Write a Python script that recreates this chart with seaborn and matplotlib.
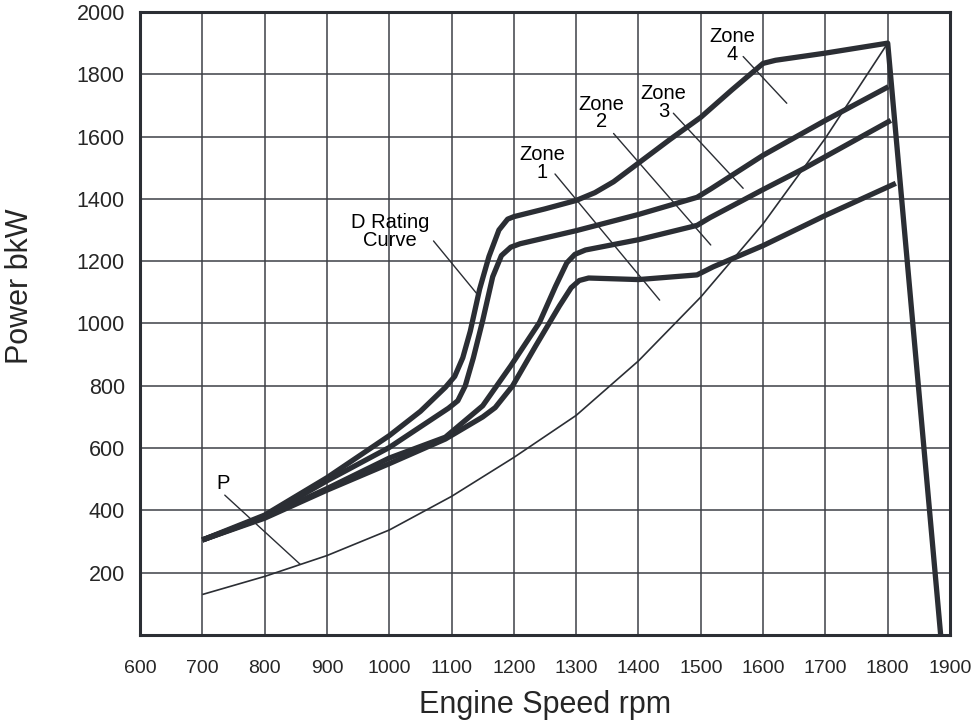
import numpy as np
import pandas as pd
import matplotlib.pyplot as plt
import seaborn as sns

# ------------------------------------------------------------
# Engine power rating chart: D rating curve, zones and prop curve
# ------------------------------------------------------------

# D rating curve (top boundary, incl. the governor drop-off)
d_rpm = [700, 800, 900, 1000, 1050, 1090, 1105, 1118, 1130, 1145, 1160, 1176, 1190, 1200,
         1250, 1300, 1330, 1360, 1400, 1450, 1500, 1550, 1600, 1620, 1700, 1800, 1885]
d_kw = [305, 385, 505, 640, 718, 795, 830, 890, 975, 1110, 1215, 1300, 1335, 1343,
        1368, 1395, 1420, 1455, 1515, 1590, 1662, 1750, 1835, 1845, 1868, 1900, 0]

# Zone 3 / 4 boundary
z3_rpm = [700, 800, 900, 1000, 1095, 1110, 1122, 1135, 1150, 1166, 1180, 1195, 1210,
          1300, 1400, 1494, 1516, 1600, 1700, 1801]
z3_kw = [305, 380, 495, 602, 728, 752, 800, 890, 1010, 1150, 1218, 1245, 1256,
         1298, 1350, 1405, 1432, 1540, 1652, 1760]

# Zone 2 / 3 boundary
z2_rpm = [700, 800, 900, 1000, 1090, 1150, 1195, 1241, 1267, 1285, 1298, 1315,
          1400, 1494, 1515, 1600, 1665, 1805]
z2_kw = [305, 378, 470, 568, 635, 736, 864, 1003, 1120, 1195, 1222, 1236,
         1269, 1315, 1340, 1430, 1497, 1652]

# Zone 1 / 2 boundary
z1_rpm = [700, 800, 900, 1000, 1090, 1150, 1170, 1198, 1235, 1273, 1292, 1305, 1320,
          1400, 1494, 1520, 1600, 1700, 1813]
z1_kw = [305, 375, 465, 550, 629, 700, 730, 800, 928, 1056, 1115, 1138, 1146,
         1141, 1156, 1182, 1250, 1347, 1450]

# Propeller demand curve P
p_rpm = [700, 800, 900, 1000, 1100, 1200, 1300, 1400, 1500, 1600, 1700, 1800]
p_kw = [130, 188, 255, 337, 445, 570, 705, 880, 1085, 1320, 1595, 1900]

x_ticks = list(range(600, 2000, 100))
y_ticks = list(range(200, 2200, 200))

ink = "#2b2e34"

sns.set_style("white")
plt.rcParams["font.family"] = ["Liberation Sans", "DejaVu Sans"]

fig = plt.figure(figsize=(9.8, 7.22), dpi=100)
ax = fig.add_axes([0.1429, 0.1205, 0.8265, 0.8629])

curves = [
    (d_rpm, d_kw, 3.8),
    (z3_rpm, z3_kw, 3.8),
    (z2_rpm, z2_kw, 3.8),
    (z1_rpm, z1_kw, 3.8),
    (p_rpm, p_kw, 1.2),
]
for xs, ys, lw in curves:
    df = pd.DataFrame({"rpm": xs, "kW": ys})
    sns.lineplot(data=df, x="rpm", y="kW", sort=False, estimator=None,
                 color=ink, linewidth=lw, ax=ax,
                 solid_joinstyle="round", solid_capstyle="butt", zorder=3)

ax.set_xlim(600, 1900)
ax.set_ylim(0, 2000)
ax.set_xticks(x_ticks)
ax.set_yticks(y_ticks)
ax.grid(True, color="#3d4047", linewidth=1.1)
ax.set_axisbelow(True)
ax.tick_params(axis="x", labelsize=14, length=0, pad=18)
ax.tick_params(axis="y", labelsize=15.5, length=0, pad=11)
for s in ax.spines.values():
    s.set_color(ink)
    s.set_linewidth(2.2)

ax.set_xlabel("Engine Speed rpm", fontsize=22)
ax.set_ylabel("Power bkW", fontsize=22)
ax.xaxis.set_label_coords(0.5, -0.088)
ax.yaxis.set_label_coords(-0.13, 0.56)

# leader-line labels
labels = [
    ("D Rating\nCurve", (1001, 1295), (1071, 1265), (1140, 1097)),
    ("Zone\n1", (1245, 1513), (1266, 1480), (1434, 1075)),
    ("Zone\n2", (1341, 1675), (1360, 1610), (1516, 1252)),
    ("Zone\n3", (1440, 1710), (1456, 1675), (1568, 1434)),
    ("Zone\n4", (1550, 1892), (1568, 1857), (1638, 1707)),
    ("P", (734, 485), (736, 449), (857, 227)),
]
for txt, tpos, start, end in labels:
    ax.text(tpos[0], tpos[1], txt, ha="center", va="center", fontsize=14.5,
            linespacing=0.9, color="black", zorder=4)
    ax.annotate("", xy=end, xytext=start,
                arrowprops=dict(arrowstyle="-", color=ink, lw=1.0,
                                shrinkA=0, shrinkB=0), zorder=4)

fig.savefig("out.png", dpi=100)
